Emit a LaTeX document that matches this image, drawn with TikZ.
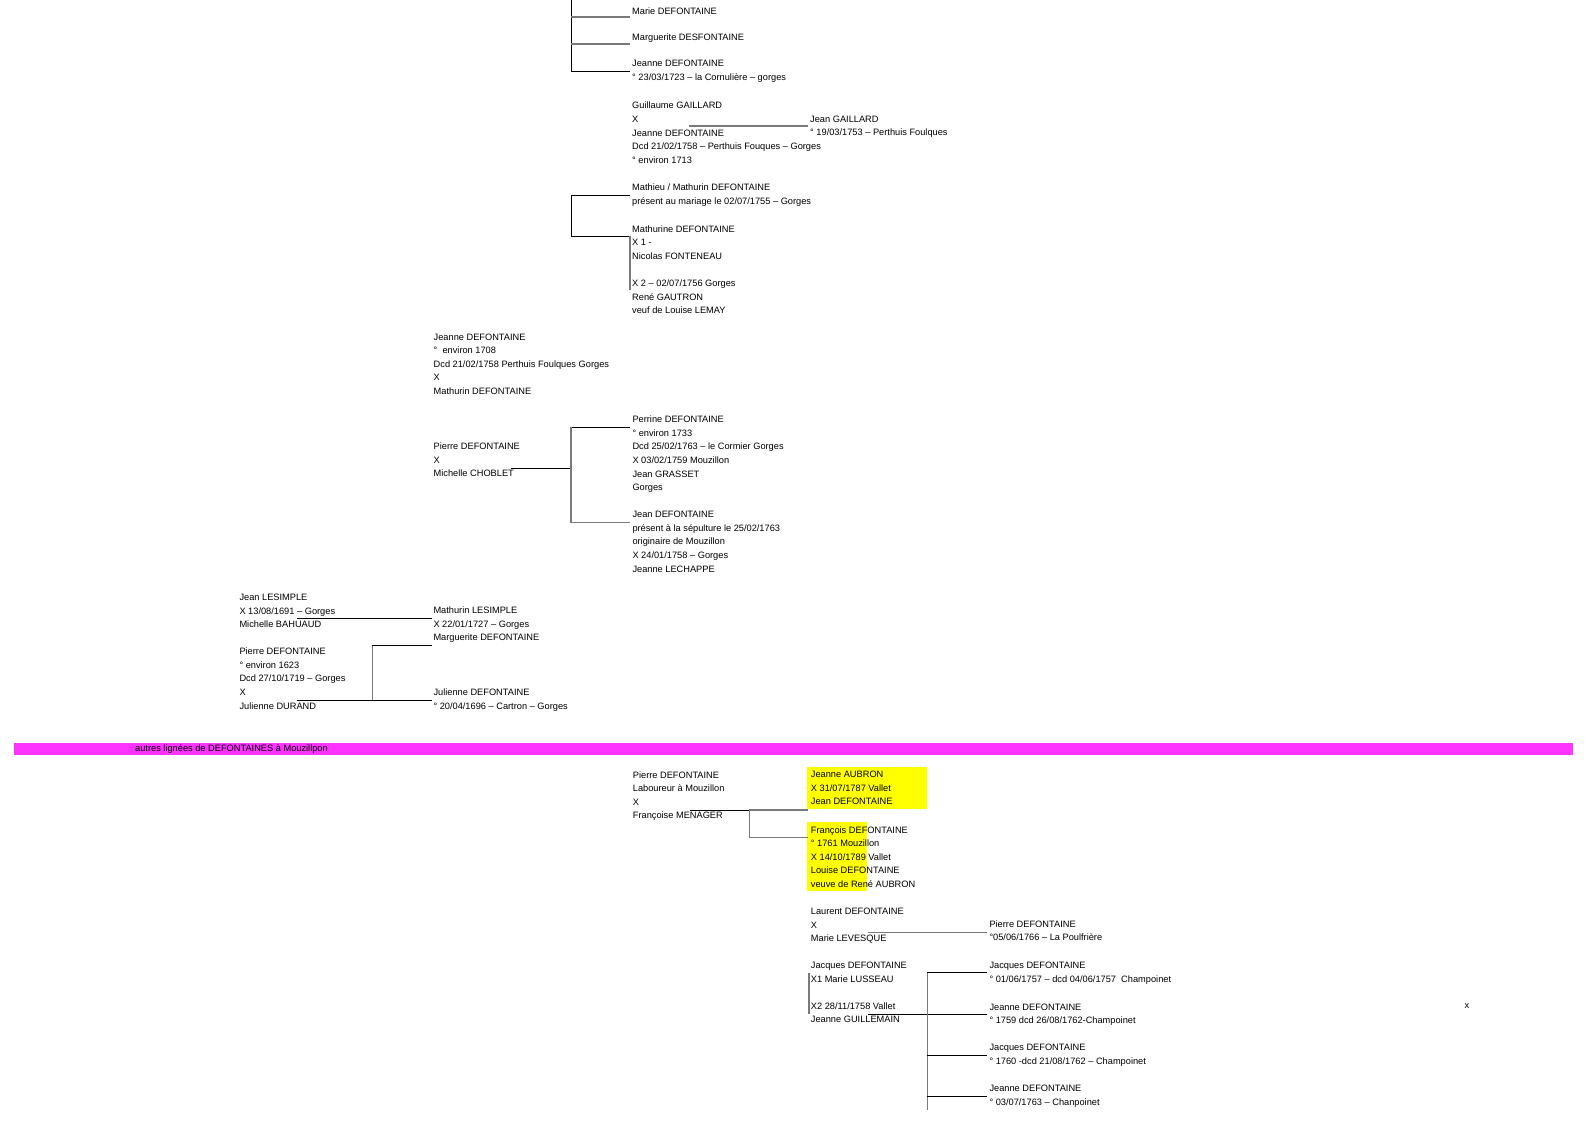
\documentclass[tikz,border=0pt]{standalone}
\usepackage{fontspec}
\setmainfont{Liberation Sans}
\usepackage{xcolor}
\usepackage{tikz}
\definecolor{bandemagenta}{HTML}{FF33FF}
\definecolor{surligne}{HTML}{FFFF00}
\definecolor{traitgris}{HTML}{7A7A7A}
\tikzset{
  fiche/.style={anchor=north west, align=left, inner sep=0pt, font=\fontsize{9.25}{13.6}\selectfont},
  lien/.style={black, line width=0.9pt},
  liengris/.style={traitgris, line width=1.5pt}
}

\begin{document}
\begin{tikzpicture}[x=1pt,y=-1pt]
    \useasboundingbox (0,0) rectangle (1588,1123);

    \fill[bandemagenta] (14,742.7) rectangle (1573,755);
    \fill[surligne] (807.3,767.3) rectangle (926.7,808.7);
    \fill[surligne] (807.3,821.7) rectangle (867.3,890.7);

    \node[fiche] (marie) at (632,7.2) {Marie DEFONTAINE};
    \node[fiche] (marguerite) at (632,33.6) {Marguerite DESFONTAINE};
    \node[fiche] (jeannecorn) at (632,60.2) {Jeanne DEFONTAINE\\° 23/03/1723 – la Cornulière – gorges};
    \node[fiche] (guillaume) at (632,102) {Guillaume GAILLARD\\X\\Jeanne DEFONTAINE\\Dcd 21/02/1758 – Perthuis Fouques – Gorges\\° environ 1713};
    \node[fiche] (jeangaillard) at (810,115.6) {Jean GAILLARD\\° 19/03/1753 – Perthuis Foulques};
    \node[fiche] (mathieu) at (632,183.8) {Mathieu / Mathurin DEFONTAINE\\présent au mariage le 02/07/1755 – Gorges};
    \node[fiche] (mathurine) at (632,225.2) {Mathurine DEFONTAINE\\X 1 -\\Nicolas FONTENEAU\\\mbox{}\\X 2 – 02/07/1756 Gorges\\René GAUTRON\\veuf de Louise LEMAY};
    \node[fiche] (jeanne1708) at (433.5,333.4) {Jeanne DEFONTAINE\\°\ \ environ 1708\\Dcd 21/02/1758 Perthuis Foulques Gorges\\X\\Mathurin DEFONTAINE};
    \node[fiche] (pierrechoblet) at (433.5,442.8) {Pierre DEFONTAINE\\X\\Michelle CHOBLET};
    \node[fiche] (perrine) at (632.3,415.8) {Perrine DEFONTAINE\\° environ 1733\\Dcd 25/02/1763 – le Cormier Gorges\\X 03/02/1759 Mouzillon\\Jean GRASSET\\Gorges};
    \node[fiche] (jeanlechappe) at (632.3,511.1) {Jean DEFONTAINE\\présent à la sépulture le 25/02/1763\\originaire de Mouzillon\\X 24/01/1758 – Gorges\\Jeanne LECHAPPE};
    \node[fiche] (jeanlesimple) at (239.3,593.8) {Jean LESIMPLE\\X 13/08/1691 – Gorges\\Michelle BAHUAUD};
    \node[fiche] (pierredurand) at (239.3,647.8) {Pierre DEFONTAINE\\° environ 1623\\Dcd 27/10/1719 – Gorges\\X\\Julienne DURAND};
    \node[fiche] (mathurinlesimple) at (433.3,606.8) {Mathurin LESIMPLE\\X 22/01/1727 – Gorges\\Marguerite DEFONTAINE};
    \node[fiche] (julienne) at (433.3,688.8) {Julienne DEFONTAINE\\° 20/04/1696 – Cartron – Gorges};

    \node[fiche] (bandeau) at (135,744.4) {autres lignées de DEFONTAINES à Mouzillpon};

    \node[fiche] (pierremenager) at (632.7,771.1) {Pierre DEFONTAINE\\Laboureur à Mouzillon\\X\\Françoise MENAGER};
    \node[fiche] (jeanneaubron) at (810.7,771.1) {Jeanne AUBRON\\X 31/07/1787 Vallet\\Jean DEFONTAINE};
    \node[fiche] (francois) at (810.7,826.1) {François DEFONTAINE\\° 1761 Mouzillon\\X 14/10/1789 Vallet\\Louise DEFONTAINE\\veuve de René AUBRON};
    \node[fiche] (laurent) at (810.7,907.8) {Laurent DEFONTAINE\\X\\Marie LEVESQUE};
    \node[fiche] (pierrepoulf) at (989.3,920.4) {Pierre DEFONTAINE\\°05/06/1766 – La Poulfrière};
    \node[fiche] (jacques) at (810.7,961.8) {Jacques DEFONTAINE\\X1 Marie LUSSEAU\\\mbox{}\\X2 28/11/1758 Vallet\\Jeanne GUILLEMAIN};
    \node[fiche] (jacques1757) at (989.3,961.8) {Jacques DEFONTAINE\\° 01/06/1757 – dcd 04/06/1757\ \ Champoinet};
    \node[fiche] (jeanne1759) at (989.3,1003.4) {Jeanne DEFONTAINE\\° 1759 dcd 26/08/1762-Champoinet};
    \node[fiche] (jacques1760) at (989.3,1043.8) {Jacques DEFONTAINE\\° 1760 -dcd 21/08/1762 – Champoinet};
    \node[fiche] (jeanne1763) at (989.3,1085.1) {Jeanne DEFONTAINE\\° 03/07/1763 – Chanpoinet};
    \node[fiche] (croix) at (1464.5,1003.4) {x};

    \coordinate (haut) at (571,0);
    \coordinate (fratrie1) at (571,71);
    \draw[lien] (haut) -- (fratrie1) -- (630,71);
    \draw[liengris] (571,17) -- (630,17);
    \draw[liengris] (571,44) -- (630,44);

    \coordinate (couple1) at (689,126);
    \coordinate (enfant1) at (808,126);
    \draw[liengris] (couple1) -- (enfant1);

    \coordinate (fratrie2) at (571,195);
    \coordinate (fratrie2b) at (571,236);
    \draw[lien] (630,195) -- (fratrie2) -- (fratrie2b) -- (630,236);
    \draw[liengris] (630,236) -- (630,290);

    \coordinate (couple2) at (510.7,468);
    \coordinate (fratrie3) at (571,427.3);
    \coordinate (fratrie3b) at (571,522.3);
    \draw[lien] (couple2) -- (571,468);
    \draw[lien] (fratrie3) -- (630,427.3);
    \draw[liengris] (fratrie3) -- (fratrie3b) -- (630,522.3);

    \coordinate (couple3) at (296.7,618.3);
    \draw[lien] (couple3) -- (431.7,618.3);
    \coordinate (couple4) at (296.7,700);
    \coordinate (fratrie4) at (372.3,645.7);
    \draw[lien] (couple4) -- (431.7,700);
    \draw[lien] (431.7,645.7) -- (fratrie4);
    \draw[liengris] (fratrie4) -- (372.3,700);

    \coordinate (couple5) at (690,810);
    \coordinate (fratrie5) at (749.3,810);
    \draw[lien] (couple5) -- (fratrie5);
    \draw[liengris] (fratrie5) -- (808.3,810);
    \draw[liengris] (fratrie5) |- (808.3,837.3);

    \coordinate (couple6) at (868.3,932.3);
    \draw[liengris] (couple6) -- (987.3,932.3);

    \draw[liengris] (809,973.3) -- (809,1014);
    \coordinate (couple7) at (868.3,1014.3);
    \coordinate (fratrie7) at (927.3,972.7);
    \draw[lien] (couple7) -- (987.3,1014.3);
    \draw[liengris] (fratrie7) -- (927.3,1110);
    \draw[lien] (fratrie7) -- (987.3,972.7);
    \draw[lien] (927.3,1055) -- (987.3,1055);
    \draw[lien] (927.3,1096.7) -- (987.3,1096.7);
\end{tikzpicture}
\end{document}
